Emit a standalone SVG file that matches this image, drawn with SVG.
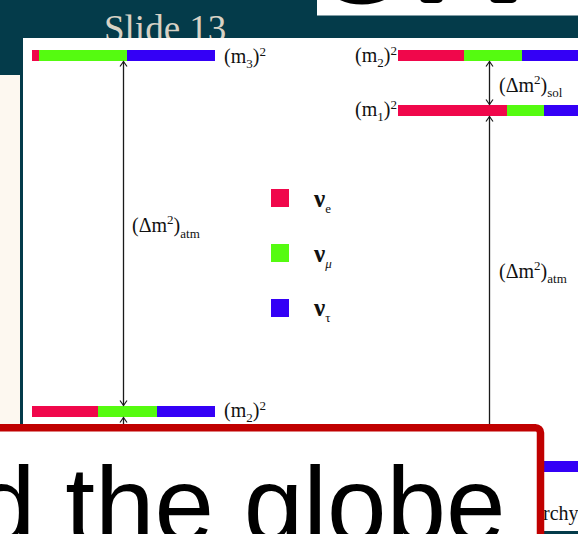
<svg xmlns="http://www.w3.org/2000/svg" width="578" height="534" viewBox="0 0 578 534">
<defs>
<style>
.t{font-family:"Liberation Serif","Times New Roman",serif;font-size:20px;fill:#111}
.s{font-size:13px}
.nu{font-weight:bold;font-size:25px}
.r{fill:#f0074b}.g{fill:#55fb10}.b{fill:#3400f6}
.ln{stroke:#1a1a1a;stroke-width:1.3;fill:none}
</style>
<marker id="ah" viewBox="-6 -5 8 10" refX="0" refY="0" markerWidth="8" markerHeight="10" markerUnits="userSpaceOnUse" orient="auto-start-reverse">
<path d="M-5,-3.5 L0,0 L-5,3.5" fill="none" stroke="#1a1a1a" stroke-width="1.2"/>
</marker>
<clipPath id="topclip"><rect x="317" y="0" width="261" height="15.5"/></clipPath>
</defs>

<rect width="578" height="534" fill="#043b4a"/>
<rect x="0" y="75" width="20" height="360" fill="#fdf8f0"/>

<g id="top-box">
<rect x="317" y="0" width="261" height="15.5" fill="#fff"/>
<g clip-path="url(#topclip)">
<ellipse cx="362" cy="-24" rx="36" ry="24" fill="none" stroke="#000" stroke-width="9"/>
<rect x="420" y="-12" width="23" height="15" rx="5" fill="#000"/>
<rect x="490" y="-12" width="27" height="15" rx="5" fill="#000"/>
<circle cx="612" cy="-38" r="50" fill="#2f4688"/>
</g>
</g>

<text id="slide-title" x="104" y="41" font-family="Liberation Serif, serif" font-size="37" fill="#d8d2c5">Slide 13</text>

<rect id="figure-bg" x="23" y="38" width="555" height="493" fill="#fff"/>

<g id="level-left-m3">
<rect class="r" x="32" y="50" width="7" height="11"/>
<rect class="g" x="39" y="50" width="88" height="11"/>
<rect class="b" x="127" y="50" width="88" height="11"/>
<text class="t" x="224" y="63">(m<tspan class="s" dy="5">3</tspan><tspan dy="-5">)</tspan><tspan class="s" dy="-7">2</tspan></text>
</g>

<g id="level-left-m2">
<rect class="r" x="32" y="406" width="66" height="11"/>
<rect class="g" x="98" y="406" width="59" height="11"/>
<rect class="b" x="157" y="406" width="58" height="11"/>
<text class="t" x="224" y="417">(m<tspan class="s" dy="5">2</tspan><tspan dy="-5">)</tspan><tspan class="s" dy="-7">2</tspan></text>
</g>

<g id="level-right-m2">
<rect class="r" x="398" y="50" width="66" height="11"/>
<rect class="g" x="464" y="50" width="58" height="11"/>
<rect class="b" x="522" y="50" width="56" height="11"/>
<text class="t" x="397" y="62" text-anchor="end">(m<tspan class="s" dy="5">2</tspan><tspan dy="-5">)</tspan><tspan class="s" dy="-7">2</tspan></text>
</g>

<g id="level-right-m1">
<rect class="r" x="398" y="105" width="109" height="11"/>
<rect class="g" x="507" y="105" width="37" height="11"/>
<rect class="b" x="544" y="105" width="34" height="11"/>
<text class="t" x="397" y="116" text-anchor="end">(m<tspan class="s" dy="5">1</tspan><tspan dy="-5">)</tspan><tspan class="s" dy="-7">2</tspan></text>
</g>

<g id="level-right-m3">
<rect class="b" x="500" y="461" width="78" height="11"/>
</g>

<g id="legend">
<g id="legend-e"><rect class="r" x="271" y="189" width="18" height="18"/><text class="t nu" x="314" y="207">ν<tspan class="s" dy="6" font-weight="normal">e</tspan></text></g>
<g id="legend-mu"><rect class="g" x="271" y="244" width="18" height="18"/><text class="t nu" x="314" y="262">ν<tspan class="s" dy="6" font-weight="normal" font-style="italic">μ</tspan></text></g>
<g id="legend-tau"><rect class="b" x="271" y="299" width="18" height="18"/><text class="t nu" x="314" y="316">ν<tspan class="s" dy="6" font-weight="normal">τ</tspan></text></g>
</g>

<g id="connectors">
<line class="ln" x1="123.5" y1="61.5" x2="123.5" y2="405.5" marker-start="url(#ah)" marker-end="url(#ah)"/>
<line class="ln" x1="123.5" y1="417.5" x2="123.5" y2="445" marker-start="url(#ah)"/>
<line class="ln" x1="489.5" y1="61.5" x2="489.5" y2="104.5" marker-start="url(#ah)" marker-end="url(#ah)"/>
<line class="ln" x1="489.5" y1="116.5" x2="489.5" y2="445" marker-start="url(#ah)"/>
</g>

<g id="labels">
<text class="t" x="132" y="232" font-size="21">(Δm<tspan class="s" dy="-8">2</tspan><tspan dy="8">)</tspan><tspan class="s" dy="6">atm</tspan></text>
<text class="t" x="499" y="92">(Δm<tspan class="s" dy="-8">2</tspan><tspan dy="8">)</tspan><tspan class="s" dy="5">sol</tspan></text>
<text class="t" x="499" y="278">(Δm<tspan class="s" dy="-8">2</tspan><tspan dy="8">)</tspan><tspan class="s" dy="5">atm</tspan></text>
</g>

<text id="caption-fragment" class="t" x="543" y="520">rchy</text>

<g id="callout">
<rect x="-10" y="427.8" width="550.5" height="120" rx="5" fill="#fff" stroke="#c00000" stroke-width="7.5"/>
<text x="-24" y="542" font-family="Liberation Sans, Arial, sans-serif" font-size="107" fill="#000">d the globe</text>
</g>
</svg>
